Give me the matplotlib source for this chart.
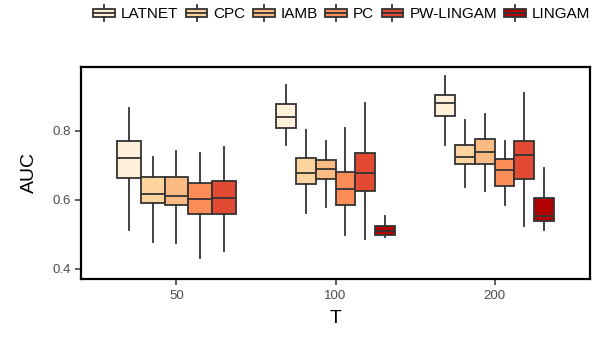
import matplotlib.pyplot as plt
from matplotlib.legend_handler import HandlerBase
from matplotlib.patches import Rectangle
from matplotlib.lines import Line2D

plt.rcParams['font.family'] = ['Liberation Sans', 'DejaVu Sans']

methods = ['LATNET', 'CPC', 'IAMB', 'PC', 'PW-LINGAM', 'LINGAM']
colors = ['#FEF0D9', '#FDD49E', '#FDBB84', '#FC8D59', '#E34A33', '#B30000']
T_labels = ['50', '100', '200']

# per method: whisker low, q1, median, q3, whisker high (None = method not shown)
auc_50 = [
    [0.513, 0.662, 0.720, 0.770, 0.865],
    [0.479, 0.592, 0.617, 0.667, 0.725],
    [0.475, 0.585, 0.611, 0.667, 0.742],
    [0.431, 0.558, 0.603, 0.648, 0.736],
    [0.452, 0.558, 0.606, 0.653, 0.752],
    None,
]
auc_100 = [
    [0.759, 0.807, 0.840, 0.876, 0.932],
    [0.563, 0.646, 0.677, 0.720, 0.802],
    [0.580, 0.659, 0.688, 0.715, 0.770],
    [0.499, 0.585, 0.631, 0.680, 0.809],
    [0.486, 0.626, 0.677, 0.735, 0.881],
    [0.491, 0.499, 0.510, 0.525, 0.553],
]
auc_200 = [
    [0.759, 0.842, 0.879, 0.903, 0.958],
    [0.636, 0.703, 0.725, 0.759, 0.831],
    [0.624, 0.703, 0.738, 0.775, 0.848],
    [0.585, 0.641, 0.686, 0.718, 0.770],
    [0.525, 0.659, 0.730, 0.770, 0.908],
    [0.513, 0.540, 0.553, 0.605, 0.691],
]
groups = [auc_50, auc_100, auc_200]

edge = '#333333'
lw = 1.3

fig = plt.figure(figsize=(5.97, 3.38), dpi=100)
ax = fig.add_axes([0.1357, 0.1737, 0.9883 - 0.1357, 0.8027 - 0.1737])

total_w = 0.75
for gi, grp in enumerate(groups):
    present = [i for i, s in enumerate(grp) if s is not None]
    w = total_w / len(present)
    for k, i in enumerate(present):
        lo, q1, med, q3, hi = grp[i]
        pos = gi + 1 - total_w / 2 + w * (k + 0.5)
        st = dict(whislo=lo, q1=q1, med=med, q3=q3, whishi=hi, fliers=[])
        ax.bxp([st], positions=[pos], widths=w, patch_artist=True,
               showfliers=False, showcaps=False,
               boxprops=dict(facecolor=colors[i], edgecolor=edge, linewidth=lw),
               medianprops=dict(color=edge, linewidth=lw),
               whiskerprops=dict(color=edge, linewidth=lw))

ax.set_xlim(0.4, 3.6)
ax.set_ylim(0.370, 0.985)
ax.set_xticks([1, 2, 3])
ax.set_xticklabels(T_labels)
ax.set_yticks([0.4, 0.6, 0.8])
ax.set_yticklabels(['0.4', '0.6', '0.8'])
ax.tick_params(colors='#333333', labelcolor='#4D4D4D', labelsize=9.5,
               length=4, width=1.1)
for sp in ax.spines.values():
    sp.set_linewidth(1.6)
    sp.set_color('black')
ax.set_xlabel('T', fontsize=14, labelpad=6)
ax.set_ylabel('AUC', fontsize=14, labelpad=10)


class BoxKey(HandlerBase):
    def create_artists(self, legend, orig, xd, yd, width, height, fontsize, trans):
        fc = orig.get_facecolor()
        bw, bh = width * 0.95, height * 0.5
        x0 = -xd + (width - bw) / 2
        y0 = -yd + (height - bh) / 2
        cx = x0 + bw / 2
        r = Rectangle((x0, y0), bw, bh, facecolor=fc, edgecolor=edge,
                      linewidth=lw, transform=trans)
        m = Line2D([x0, x0 + bw], [y0 + bh / 2] * 2, color=edge, lw=lw, transform=trans)
        wt = Line2D([cx, cx], [y0 + bh, -yd + height], color=edge, lw=lw, transform=trans)
        wb = Line2D([cx, cx], [-yd, y0], color=edge, lw=lw, transform=trans)
        return [r, m, wt, wb]


handles = [Rectangle((0, 0), 1, 1, facecolor=c) for c in colors]
fig.legend(handles, methods, handler_map={Rectangle: BoxKey()},
           loc='center', bbox_to_anchor=(0.572, 0.962), ncol=6, frameon=False,
           fontsize=11, handlelength=1.5, handleheight=1.3, handletextpad=0.35,
           columnspacing=0.45, borderaxespad=0)

fig.savefig('out.png', dpi=100)
